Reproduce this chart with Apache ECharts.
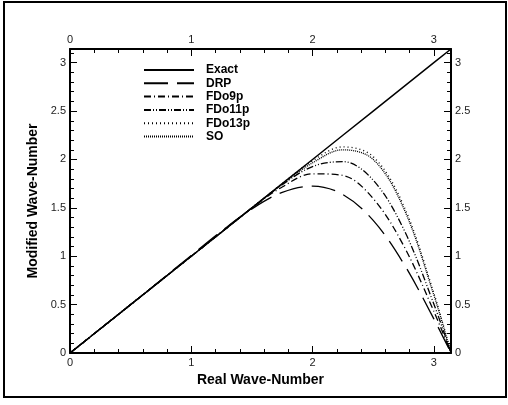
<!DOCTYPE html>
<html>
<head>
<meta charset="utf-8">
<script src="https://cdn.jsdelivr.net/npm/echarts@6/dist/echarts.min.js"></script>
<style>
  html, body { margin: 0; padding: 0; background: #fff; }
  #chart { width: 508px; height: 405px; }
</style>
</head>
<body>
<div id="chart"></div>
<script>
// Modified wave-number of the spatial difference schemes versus the real wave-number
const PI = 3.14159;
const waveNumber = [0, 0.5, 1.0, 1.25, 1.5, 1.75, 2.0, 2.25, 2.5, 2.75, 3.0, PI];
const exactValues = [0, 0.5, 1.0, 1.25, 1.5, 1.75, 2.0, 2.25, 2.5, 2.75, 3.0, PI];
const drpValues   = [0, 0.50, 1.008, 1.26, 1.489, 1.66, 1.725, 1.638, 1.37, 0.926, 0.353, 0];
const fdo9Values  = [0, 0.50, 1.0, 1.25, 1.498, 1.716, 1.852, 1.835, 1.596, 1.112, 0.431, 0];
const fdo11Values = [0, 0.50, 1.0, 1.25, 1.5, 1.739, 1.927, 1.978, 1.786, 1.283, 0.506, 0];
const fdo13Values = [0, 0.50, 1.0, 1.25, 1.5, 1.751, 1.986, 2.13, 2.029, 1.527, 0.62, 0];
const soValues    = [0, 0.50, 1.0, 1.25, 1.5, 1.745, 1.965, 2.10, 2.0, 1.50, 0.60, 0];

const seriesNames = ['Exact', 'DRP', 'FDo9p', 'FDo11p', 'FDo13p', 'SO'];
const seriesValues = [exactValues, drpValues, fdo9Values, fdo11Values, fdo13Values, soValues];
const seriesDash = ['solid', [24, 9], [7, 3, 1, 3], [7, 2, 1, 2, 1, 2], [1, 3], [1, 1]];
const seriesWidth = [1.5, 1.3, 1.3, 1.3, 1.3, 1.3];

const FONT = '"Liberation Sans", Arial, Helvetica, sans-serif';

function pairs(xs, ys) { return xs.map((x, i) => [x, ys[i]]); }

function axisCommon(extra) {
  return Object.assign({
    type: 'value',
    min: 0,
    max: PI,
    axisLine: { show: true, onZero: false, lineStyle: { color: '#000', width: 2 } },
    axisTick: { show: true, inside: true, length: 7, lineStyle: { color: '#000', width: 1 } },
    minorTick: { show: true, splitNumber: 5, length: 4, lineStyle: { color: '#000', width: 1 } },
    splitLine: { show: false },
    minorSplitLine: { show: false },
    axisLabel: {
      color: '#222', fontFamily: FONT, fontSize: 11, margin: 4,
      showMaxLabel: false,
      formatter: v => String(v)
    }
  }, extra);
}

const titleStyle = { color: '#000', fontFamily: FONT, fontSize: 14, fontWeight: 'bold' };

const chart = echarts.init(document.getElementById('chart'), null, { renderer: 'canvas' });

chart.setOption({
  animation: false,
  backgroundColor: '#fff',
  grid: { left: 70, right: 57, top: 49, bottom: 52, containLabel: false },
  xAxis: [
    axisCommon({
      position: 'bottom', interval: 1,
      name: 'Real Wave-Number', nameLocation: 'middle', nameGap: 15,
      nameTextStyle: titleStyle
    }),
    axisCommon({ position: 'top', interval: 1 })
  ],
  yAxis: [
    axisCommon({
      position: 'left', interval: 0.5,
      name: 'Modified Wave-Number', nameLocation: 'middle', nameGap: 29,
      nameTextStyle: titleStyle
    }),
    axisCommon({ position: 'right', interval: 0.5 })
  ],
  legend: {
    orient: 'vertical',
    left: 138,
    top: 59,
    itemWidth: 50,
    itemHeight: 14,
    itemGap: 1.3,
    data: seriesNames,
    itemStyle: { opacity: 0 },
    textStyle: { color: '#000', fontFamily: FONT, fontSize: 12, fontWeight: 'bold', padding: [0, 0, 0, 7] }
  },
  graphic: [{
    type: 'rect',
    shape: { x: 4, y: 2, width: 502, height: 395 },
    style: { fill: 'none', stroke: '#000', lineWidth: 2 },
    silent: true, z: -1
  }],
  series: seriesNames.map((name, i) => ({
    name: name,
    type: 'line',
    xAxisIndex: 0,
    yAxisIndex: 0,
    data: pairs(waveNumber, seriesValues[i]),
    showSymbol: false,
    symbol: 'none',
    smooth: i === 0 ? false : 0.35,
    lineStyle: { color: '#000', width: seriesWidth[i], type: seriesDash[i] },
    itemStyle: { color: '#000' },
    z: 2
  }))
});
</script>
</body>
</html>
